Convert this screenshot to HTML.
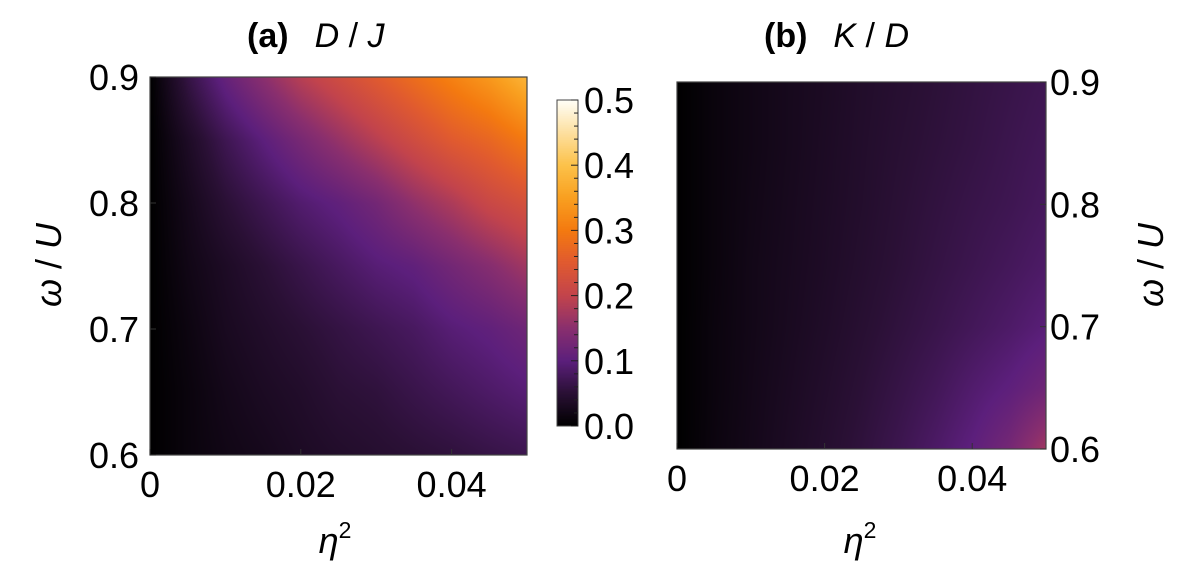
<!DOCTYPE html>
<html><head><meta charset="utf-8"><style>
body{margin:0;background:#fff;width:1196px;height:586px;overflow:hidden}
svg{position:absolute;left:0;top:0}
text{font-family:"Liberation Sans",sans-serif;fill:#000}
canvas{position:absolute}
</style></head><body>
<canvas id="ca" width="377" height="378" style="left:150px;top:77px"></canvas>
<canvas id="cb" width="369" height="367" style="left:677px;top:82px"></canvas>
<canvas id="cc" width="21" height="326" style="left:557px;top:100px"></canvas>
<svg width="1196" height="586">
<g id="ga"></g>
<g id="gb"></g>
<g id="gc"></g>
<text x="247" y="47" style="font-size:34px"><tspan font-weight="bold">(a)</tspan><tspan dx="26" font-style="italic">D</tspan><tspan> / </tspan><tspan font-style="italic">J</tspan></text>
<text x="764" y="47" style="font-size:34px"><tspan font-weight="bold">(b)</tspan><tspan dx="26" font-style="italic">K</tspan><tspan> / </tspan><tspan font-style="italic">D</tspan></text>
<text transform="translate(61,265) rotate(-90)" text-anchor="middle" style="font-size:36px"><tspan font-style="italic">ω</tspan> / <tspan font-style="italic">U</tspan></text>
<text transform="translate(1163,265) rotate(-90)" text-anchor="middle" style="font-size:36px"><tspan font-style="italic">ω</tspan> / <tspan font-style="italic">U</tspan></text>
<text x="335" y="553" text-anchor="middle" style="font-size:36px"><tspan font-style="italic">η</tspan><tspan style="font-size:23px" dy="-15">2</tspan></text>
<text x="860" y="553" text-anchor="middle" style="font-size:36px"><tspan font-style="italic">η</tspan><tspan style="font-size:23px" dy="-15">2</tspan></text>
</svg>
<script>
const etaVals=[0,0.005,0.01,0.015,0.02,0.025,0.03,0.035,0.04,0.045,0.05];
const omegaVals=[0.9,0.85,0.8,0.75,0.7,0.65,0.6];
const gridA=[
[0,.06,.11,.15,.19,.22,.25,.28,.31,.34,.38],
[0,.035,.07,.1,.13,.16,.19,.22,.25,.27,.3],
[0,.025,.05,.07,.09,.105,.125,.155,.18,.21,.23],
[0,.02,.035,.05,.065,.08,.095,.105,.125,.145,.17],
[0,.015,.03,.04,.05,.06,.07,.08,.095,.105,.12],
[0,.012,.024,.033,.04,.05,.055,.065,.075,.085,.095],
[0,.012,.02,.026,.034,.04,.045,.05,.055,.062,.068]];
const gridB=[
[0,.012,.02,.027,.033,.04,.046,.052,.058,.064,.07],
[0,.012,.02,.027,.034,.041,.048,.054,.06,.067,.074],
[0,.012,.021,.028,.035,.042,.05,.057,.064,.07,.078],
[0,.012,.022,.029,.036,.044,.052,.06,.068,.076,.085],
[0,.013,.022,.03,.038,.047,.056,.065,.075,.085,.097],
[0,.013,.023,.032,.041,.051,.062,.074,.089,.102,.12],
[0,.014,.024,.034,.044,.055,.068,.084,.102,.127,.17]];
const xTicks=[0,0.02,0.04];
const xTickLabels=["0","0.02","0.04"];
const yTicks=[0.6,0.7,0.8,0.9];
const yTickLabels=["0.6","0.7","0.8","0.9"];
const cbTicks=[0,0.1,0.2,0.3,0.4,0.5];
const cbTickLabels=["0.0","0.1","0.2","0.3","0.4","0.5"];

const stops=[[0,[0,0,0]],[.1,[42,16,53]],[.2,[92,31,124]],[.3,[138,47,110]],[.4,[195,68,76]],[.5,[224,90,48]],[.6,[244,122,16]],[.7,[249,160,32]],[.8,[252,194,74]],[.9,[253,224,160]],[1,[255,255,248]]];
function cmap(v){let t=Math.max(0,Math.min(1,v/0.5));for(let i=1;i<stops.length;i++){if(t<=stops[i][0]){const a=stops[i-1],b=stops[i],f=(t-a[0])/(b[0]-a[0]);return a[1].map((c,k)=>c+(b[1][k]-c)*f);}}return stops[stops.length-1][1];}
function sample(g,e,w){
  const fx=Math.max(0,Math.min(etaVals.length-1.0001,(e-etaVals[0])/(etaVals[1]-etaVals[0])));
  const fy=Math.max(0,Math.min(omegaVals.length-1.0001,(w-omegaVals[0])/(omegaVals[1]-omegaVals[0])));
  const i=Math.floor(fx),j=Math.floor(fy),u=fx-i,v=fy-j;
  return g[j][i]*(1-u)*(1-v)+g[j][i+1]*u*(1-v)+g[j+1][i]*(1-u)*v+g[j+1][i+1]*u*v;}
function drawHeat(id,g){const c=document.getElementById(id),ctx=c.getContext('2d'),W=c.width,H=c.height,img=ctx.createImageData(W,H);
  for(let y=0;y<H;y++)for(let x=0;x<W;x++){const e=0.05*(x+0.5)/W,w=0.9-0.3*(y+0.5)/H;const col=cmap(sample(g,e,w));const p=(y*W+x)*4;img.data[p]=col[0];img.data[p+1]=col[1];img.data[p+2]=col[2];img.data[p+3]=255;}
  ctx.putImageData(img,0,0);}
drawHeat('ca',gridA);drawHeat('cb',gridB);
(function(){const c=document.getElementById('cc'),ctx=c.getContext('2d');for(let y=0;y<c.height;y++){const col=cmap(0.5*(1-(y+0.5)/c.height));ctx.fillStyle=`rgb(${col.map(Math.round).join(',')})`;ctx.fillRect(0,y,c.width,1);}})();

const NS='http://www.w3.org/2000/svg';
function mk(g,tag,attrs,txt){const e=document.createElementNS(NS,tag);for(const k in attrs)e.setAttribute(k,attrs[k]);if(txt!==undefined)e.textContent=txt;g.appendChild(e);return e;}
function axes(gid,L,T,W,H,right){
  const g=document.getElementById(gid);
  const sx=v=>L+v/0.05*W, sy=v=>T+(0.9-v)/0.3*H;
  const fr=mk(g,'rect',{x:L,y:T,width:W,height:H,fill:'none',stroke:'#444','stroke-width':1.2});
  
  
  xTicks.forEach((t,i)=>{const x=sx(t);
    const tk=mk(g,'line',{x1:x,x2:x,y1:T+H,y2:T+H-6,stroke:'#333','stroke-width':1});
    
    
    const lb=mk(g,'text',{x:x,y:T+H+42,'text-anchor':'middle',style:'font-size:36px'},xTickLabels[i]);
    
    });
  yTicks.forEach((t,i)=>{const y=sy(t);
    const xe=right?L+W:L;
    const tk=mk(g,'line',{x1:xe,x2:right?xe-6:xe+6,y1:y,y2:y,stroke:'#333','stroke-width':1});
    
    
    const lb=mk(g,'text',{x:right?L+W+4:L-11,y:y+13,'text-anchor':right?'start':'end',style:'font-size:36px'},yTickLabels[i]);
    
    });
}
axes('ga',150,77,377,378,false);
axes('gb',677,82,369,367,true);
(function(){const g=document.getElementById('gc');const L=557,T=100,W=21,H=326;
  const fr=mk(g,'rect',{x:L,y:T,width:W,height:H,fill:'none',stroke:'#444','stroke-width':1});
  
  
  for(let k=0;k<=25;k++){const y=T+H-k/25*H;const len=(k%5==0)?7:4;
    const tk=mk(g,'line',{x1:L+W,x2:L+W-len,y1:y,y2:y,stroke:'#222','stroke-width':1});
    
    }
  cbTicks.forEach((t,i)=>{const y=T+H-t/0.5*H;
    const lb=mk(g,'text',{x:L+W+6,y:y+13,style:'font-size:36px'},cbTickLabels[i]);
    
    });
})();
</script>
</body></html>
